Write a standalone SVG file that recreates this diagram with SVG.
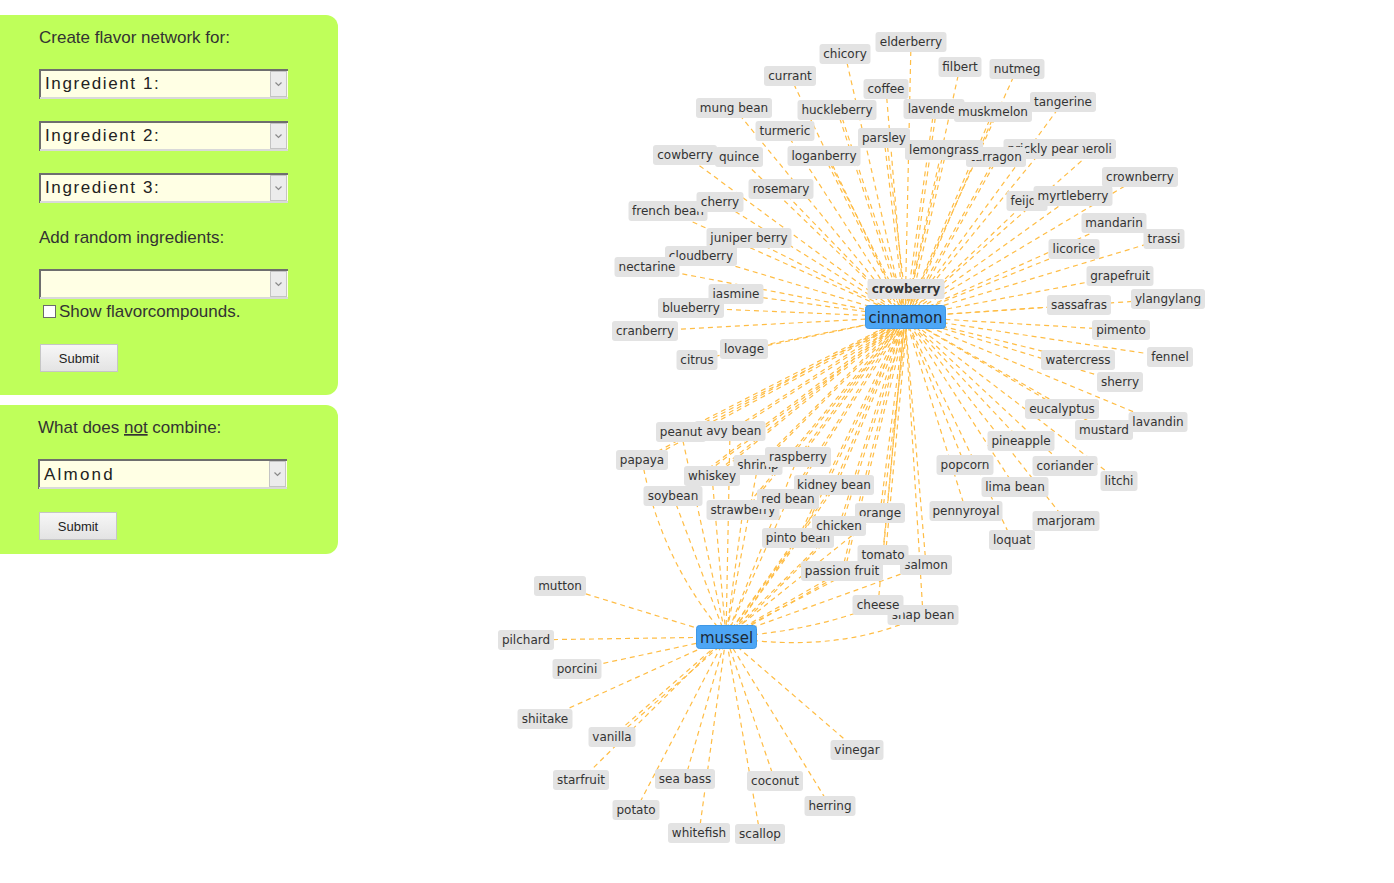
<svg xmlns="http://www.w3.org/2000/svg" width="1394" height="883" viewBox="0 0 1394 883">
<defs>
<linearGradient id="btn" x1="0" y1="0" x2="0" y2="1"><stop offset="0" stop-color="#f7f7f7"/><stop offset="1" stop-color="#e3e3e3"/></linearGradient>
<style>
.panel{fill:#bfff5a}
.lbl{font-family:"Liberation Sans",Arial,sans-serif;font-size:17px;fill:#333}
.sel{fill:#ffffe4}
.selt{font-family:"Liberation Sans",Arial,sans-serif;font-size:17px;fill:#222;letter-spacing:1.6px}
.dk{stroke:#6e6e6e;stroke-width:2;fill:none}
.lt{stroke:#d9d9d9;stroke-width:2;fill:none}
.dd{fill:#ececec;stroke:#c4c4c4;stroke-width:1}
.chev{stroke:#8a8a8a;stroke-width:1.2;fill:none}
.btn{fill:url(#btn);stroke:#c6c6c6;stroke-width:1}
.btnt{font-family:"Liberation Sans",Arial,sans-serif;font-size:13px;fill:#222;text-anchor:middle}
.e line,.e path{stroke:#ffbd45;stroke-width:1.2;stroke-dasharray:5 4;fill:none}
.n rect{fill:#e3e3e3}
.n text{font-family:"DejaVu Sans",Verdana,sans-serif;font-size:12px;fill:#333;text-anchor:middle}
.b text{font-weight:bold}
.h rect{fill:#4da6f5;stroke:#3f98e6;stroke-width:1}
.h text{font-family:"DejaVu Sans",Verdana,sans-serif;font-size:15px;fill:#1e2a36;text-anchor:middle}
</style>
</defs>
<rect width="1394" height="883" fill="#ffffff"/>

<g id="form-network">
<rect class="panel" x="-20" y="15" width="358" height="380" rx="12"/>
<text class="lbl" x="39" y="43">Create flavor network for:</text>
<g id="sel1"><rect class="sel" x="39" y="69" width="249" height="30"/><path class="dk" d="M40,99V70H288"/><path class="lt" d="M40,98H288"/><text class="selt" x="45" y="89">Ingredient 1:</text><rect class="dd" x="270.5" y="71.5" width="16" height="25"/><path class="chev" d="M275.5,82.5l3,3l3,-3"/></g>
<g id="sel2"><rect class="sel" x="39" y="121" width="249" height="30"/><path class="dk" d="M40,151V122H288"/><path class="lt" d="M40,150H288"/><text class="selt" x="45" y="141">Ingredient 2:</text><rect class="dd" x="270.5" y="123.5" width="16" height="25"/><path class="chev" d="M275.5,134.5l3,3l3,-3"/></g>
<g id="sel3"><rect class="sel" x="39" y="173" width="249" height="30"/><path class="dk" d="M40,203V174H288"/><path class="lt" d="M40,202H288"/><text class="selt" x="45" y="193">Ingredient 3:</text><rect class="dd" x="270.5" y="175.5" width="16" height="25"/><path class="chev" d="M275.5,186.5l3,3l3,-3"/></g>
<text class="lbl" x="39" y="243">Add random ingredients:</text>
<g id="sel4"><rect class="sel" x="39" y="269" width="249" height="30"/><path class="dk" d="M40,299V270H288"/><path class="lt" d="M40,298H288"/><rect class="dd" x="270.5" y="271.5" width="16" height="25"/><path class="chev" d="M275.5,282.5l3,3l3,-3"/></g>
<rect x="43.5" y="305.5" width="12" height="12" fill="#ffffff" stroke="#6a6a6a"/>
<text class="lbl" x="59" y="317">Show flavorcompounds.</text>
<rect class="btn" x="40.5" y="344.5" width="77" height="27"/>
<text class="btnt" x="79" y="363">Submit</text>
</g>

<g id="form-notcombine">
<rect class="panel" x="-20" y="405" width="358" height="149" rx="12"/>
<text class="lbl" x="38" y="433">What does <tspan text-decoration="underline">not</tspan> combine:</text>
<g id="sel5"><rect class="sel" x="38" y="459" width="249" height="30"/><path class="dk" d="M39,489V460H287"/><path class="lt" d="M39,488H287"/><text class="selt" x="44" y="480" style="letter-spacing:2.2px">Almond</text><rect class="dd" x="269.5" y="461.5" width="16" height="25"/><path class="chev" d="M274.5,472.5l3,3l3,-3"/></g>
<rect class="btn" x="39.5" y="512.5" width="77" height="27"/>
<text class="btnt" x="78" y="531">Submit</text>
</g>

<g id="connectors" class="e">
<!-- to cinnamon -->
<line x1="845" y1="54" x2="905" y2="317"/>
<line x1="911" y1="42" x2="905" y2="317"/>
<line x1="790" y1="76" x2="905" y2="317"/>
<line x1="886" y1="89" x2="905" y2="317"/>
<line x1="960" y1="67" x2="905" y2="317"/>
<line x1="1017" y1="69" x2="905" y2="317"/>
<line x1="734" y1="108" x2="905" y2="317"/>
<line x1="837" y1="110" x2="905" y2="317"/>
<line x1="934" y1="109" x2="905" y2="317"/>
<line x1="993" y1="112" x2="905" y2="317"/>
<line x1="1063" y1="102" x2="905" y2="317"/>
<line x1="785" y1="131" x2="905" y2="317"/>
<line x1="884" y1="138" x2="905" y2="317"/>
<line x1="685" y1="155" x2="905" y2="317"/>
<line x1="739" y1="157" x2="905" y2="317"/>
<line x1="824" y1="156" x2="905" y2="317"/>
<line x1="944" y1="150" x2="905" y2="317"/>
<line x1="996" y1="157" x2="905" y2="317"/>
<line x1="1043" y1="149" x2="905" y2="317"/>
<line x1="1095" y1="149" x2="905" y2="317"/>
<line x1="1140" y1="177" x2="905" y2="317"/>
<line x1="1027" y1="201" x2="905" y2="317"/>
<line x1="1073" y1="196" x2="905" y2="317"/>
<line x1="781" y1="189" x2="905" y2="317"/>
<line x1="720" y1="202" x2="905" y2="317"/>
<line x1="668" y1="211" x2="905" y2="317"/>
<line x1="1114" y1="223" x2="905" y2="317"/>
<line x1="1164" y1="239" x2="905" y2="317"/>
<line x1="749" y1="238" x2="905" y2="317"/>
<line x1="701" y1="256" x2="905" y2="317"/>
<line x1="647" y1="267" x2="905" y2="317"/>
<line x1="1074" y1="249" x2="905" y2="317"/>
<line x1="1120" y1="276" x2="905" y2="317"/>
<line x1="906" y1="289" x2="905" y2="317"/>
<line x1="736" y1="294" x2="905" y2="317"/>
<line x1="691" y1="308" x2="905" y2="317"/>
<line x1="1079" y1="305" x2="905" y2="317"/>
<line x1="1168" y1="299" x2="905" y2="317"/>
<line x1="645" y1="331" x2="905" y2="317"/>
<line x1="1121" y1="330" x2="905" y2="317"/>
<line x1="744" y1="349" x2="905" y2="317"/>
<line x1="697" y1="360" x2="905" y2="317"/>
<line x1="1078" y1="360" x2="905" y2="317"/>
<line x1="1170" y1="357" x2="905" y2="317"/>
<line x1="1120" y1="382" x2="905" y2="317"/>
<line x1="1062" y1="409" x2="905" y2="317"/>
<line x1="1158" y1="422" x2="905" y2="317"/>
<line x1="1104" y1="430" x2="905" y2="317"/>
<line x1="1021" y1="441" x2="905" y2="317"/>
<line x1="965" y1="465" x2="905" y2="317"/>
<line x1="1065" y1="466" x2="905" y2="317"/>
<line x1="1119" y1="481" x2="905" y2="317"/>
<line x1="1015" y1="487" x2="905" y2="317"/>
<line x1="966" y1="511" x2="905" y2="317"/>
<line x1="1066" y1="521" x2="905" y2="317"/>
<line x1="1012" y1="540" x2="905" y2="317"/>
<line x1="681" y1="432" x2="905" y2="317"/>
<line x1="730" y1="431" x2="905" y2="317"/>
<line x1="642" y1="460" x2="905" y2="317"/>
<line x1="798" y1="457" x2="905" y2="317"/>
<line x1="758" y1="465" x2="905" y2="317"/>
<line x1="712" y1="476" x2="905" y2="317"/>
<line x1="673" y1="496" x2="905" y2="317"/>
<line x1="834" y1="485" x2="905" y2="317"/>
<line x1="788" y1="499" x2="905" y2="317"/>
<line x1="743" y1="510" x2="905" y2="317"/>
<line x1="880" y1="513" x2="905" y2="317"/>
<line x1="839" y1="526" x2="905" y2="317"/>
<line x1="798" y1="538" x2="905" y2="317"/>
<line x1="883" y1="555" x2="905" y2="317"/>
<line x1="926" y1="565" x2="905" y2="317"/>
<line x1="842" y1="571" x2="905" y2="317"/>
<line x1="878" y1="605" x2="905" y2="317"/>
<line x1="923" y1="615" x2="905" y2="317"/>
<!-- doubled parallel edges -->
<g transform="translate(2.5,0)">
<line x1="824" y1="156" x2="905" y2="317"/>
<line x1="837" y1="110" x2="905" y2="317"/>
<line x1="934" y1="109" x2="905" y2="317"/>
<line x1="993" y1="112" x2="905" y2="317"/>
<line x1="944" y1="150" x2="905" y2="317"/>
<line x1="884" y1="138" x2="905" y2="317"/>
<line x1="996" y1="157" x2="905" y2="317"/>
<line x1="798" y1="457" x2="905" y2="317"/>
<line x1="834" y1="485" x2="905" y2="317"/>
<line x1="788" y1="499" x2="905" y2="317"/>
<line x1="743" y1="510" x2="905" y2="317"/>
<line x1="880" y1="513" x2="905" y2="317"/>
<line x1="839" y1="526" x2="905" y2="317"/>
<line x1="798" y1="538" x2="905" y2="317"/>
<line x1="883" y1="555" x2="905" y2="317"/>
<line x1="842" y1="571" x2="905" y2="317"/>
<line x1="839" y1="526" x2="726" y2="637"/>
<line x1="798" y1="538" x2="726" y2="637"/>
<line x1="834" y1="485" x2="726" y2="637"/>
</g>
<g transform="translate(0,2.5)">
<line x1="758" y1="465" x2="905" y2="317"/>
<line x1="712" y1="476" x2="905" y2="317"/>
<line x1="681" y1="432" x2="905" y2="317"/>
<line x1="730" y1="431" x2="905" y2="317"/>
<line x1="642" y1="460" x2="905" y2="317"/>
<line x1="673" y1="496" x2="905" y2="317"/>
<line x1="842" y1="571" x2="726" y2="637"/>
</g>
<g transform="translate(2,2)">
<line x1="612" y1="737" x2="726" y2="637"/>
</g>
<!-- to mussel -->
<line x1="560" y1="586" x2="726" y2="637"/>
<line x1="526" y1="640" x2="726" y2="637"/>
<line x1="577" y1="669" x2="726" y2="637"/>
<line x1="545" y1="719" x2="726" y2="637"/>
<line x1="612" y1="737" x2="726" y2="637"/>
<line x1="581" y1="780" x2="726" y2="637"/>
<line x1="685" y1="779" x2="726" y2="637"/>
<line x1="775" y1="781" x2="726" y2="637"/>
<line x1="830" y1="806" x2="726" y2="637"/>
<line x1="636" y1="810" x2="726" y2="637"/>
<line x1="699" y1="833" x2="726" y2="637"/>
<line x1="760" y1="834" x2="726" y2="637"/>
<line x1="857" y1="750" x2="726" y2="637"/>
<line x1="681" y1="432" x2="726" y2="637"/>
<line x1="730" y1="431" x2="726" y2="637"/>
<path d="M642,460 Q660,560 726,637"/>
<line x1="798" y1="457" x2="726" y2="637"/>
<line x1="758" y1="465" x2="726" y2="637"/>
<line x1="712" y1="476" x2="726" y2="637"/>
<line x1="673" y1="496" x2="726" y2="637"/>
<line x1="834" y1="485" x2="726" y2="637"/>
<line x1="788" y1="499" x2="726" y2="637"/>
<line x1="743" y1="510" x2="726" y2="637"/>
<line x1="880" y1="513" x2="726" y2="637"/>
<line x1="839" y1="526" x2="726" y2="637"/>
<line x1="798" y1="538" x2="726" y2="637"/>
<line x1="883" y1="555" x2="726" y2="637"/>
<line x1="926" y1="565" x2="726" y2="637"/>
<line x1="842" y1="571" x2="726" y2="637"/>
<path d="M726,637 Q810,632 878,605"/>
<path d="M726,637 Q840,655 923,615"/>
</g>

<g id="nodes" class="n">
<g id="n-chicory"><rect x="819.5" y="44" width="51" height="20" rx="3"/><text x="845" y="58">chicory</text></g>
<g id="n-elderberry"><rect x="875.5" y="32" width="71" height="20" rx="3"/><text x="911" y="46">elderberry</text></g>
<g id="n-currant"><rect x="764" y="66" width="52" height="20" rx="3"/><text x="790" y="80">currant</text></g>
<g id="n-coffee"><rect x="863.5" y="79" width="45" height="20" rx="3"/><text x="886" y="93">coffee</text></g>
<g id="n-filbert"><rect x="938.5" y="57" width="43" height="20" rx="3"/><text x="960" y="71">filbert</text></g>
<g id="n-nutmeg"><rect x="989.5" y="59" width="55" height="20" rx="3"/><text x="1017" y="73">nutmeg</text></g>
<g id="n-mungbean"><rect x="696" y="98" width="76" height="20" rx="3"/><text x="734" y="112">mung bean</text></g>
<g id="n-huckleberry"><rect x="797.5" y="100" width="79" height="20" rx="3"/><text x="837" y="114">huckleberry</text></g>
<g id="n-lavender"><rect x="903.5" y="99" width="61" height="20" rx="3"/><text x="934" y="113">lavender</text></g>
<g id="n-muskmelon"><rect x="954" y="102" width="78" height="20" rx="3"/><text x="993" y="116">muskmelon</text></g>
<g id="n-tangerine"><rect x="1030" y="92" width="66" height="20" rx="3"/><text x="1063" y="106">tangerine</text></g>
<g id="n-turmeric"><rect x="755.5" y="121" width="59" height="20" rx="3"/><text x="785" y="135">turmeric</text></g>
<g id="n-parsley"><rect x="858" y="128" width="52" height="20" rx="3"/><text x="884" y="142">parsley</text></g>
<g id="n-cowberry"><rect x="653" y="145" width="64" height="20" rx="3"/><text x="685" y="159">cowberry</text></g>
<g id="n-quince"><rect x="715" y="147" width="48" height="20" rx="3"/><text x="739" y="161">quince</text></g>
<g id="n-loganberry"><rect x="787.5" y="146" width="73" height="20" rx="3"/><text x="824" y="160">loganberry</text></g>
<g id="n-neroli"><rect x="1074" y="139" width="42" height="20" rx="3"/><text x="1095" y="153">neroli</text></g>
<g id="n-pricklypear"><rect x="1003.5" y="139" width="79" height="20" rx="3"/><text x="1043" y="153">prickly pear</text></g>
<g id="n-tarragon"><rect x="966" y="147" width="60" height="20" rx="3"/><text x="996" y="161">tarragon</text></g>
<g id="n-lemongrass"><rect x="905" y="140" width="78" height="20" rx="3"/><text x="944" y="154">lemongrass</text></g>
<g id="n-crownberry"><rect x="1102" y="167" width="76" height="20" rx="3"/><text x="1140" y="181">crownberry</text></g>
<g id="n-feijoa"><rect x="1006.5" y="191" width="41" height="20" rx="3"/><text x="1027" y="205">feijoa</text></g>
<g id="n-myrtleberry"><rect x="1033.5" y="186" width="79" height="20" rx="3"/><text x="1073" y="200">myrtleberry</text></g>
<g id="n-rosemary"><rect x="748.5" y="179" width="65" height="20" rx="3"/><text x="781" y="193">rosemary</text></g>
<g id="n-frenchbean"><rect x="628.5" y="201" width="79" height="20" rx="3"/><text x="668" y="215">french bean</text></g>
<g id="n-cherry"><rect x="696.5" y="192" width="47" height="20" rx="3"/><text x="720" y="206">cherry</text></g>
<g id="n-mandarin"><rect x="1081.5" y="213" width="65" height="20" rx="3"/><text x="1114" y="227">mandarin</text></g>
<g id="n-trassi"><rect x="1143.5" y="229" width="41" height="20" rx="3"/><text x="1164" y="243">trassi</text></g>
<g id="n-juniperberry"><rect x="706.5" y="228" width="85" height="20" rx="3"/><text x="749" y="242">juniper berry</text></g>
<g id="n-cloudberry"><rect x="665" y="246" width="72" height="20" rx="3"/><text x="701" y="260">cloudberry</text></g>
<g id="n-nectarine"><rect x="614.5" y="257" width="65" height="20" rx="3"/><text x="647" y="271">nectarine</text></g>
<g id="n-licorice"><rect x="1048.5" y="239" width="51" height="20" rx="3"/><text x="1074" y="253">licorice</text></g>
<g id="n-grapefruit"><rect x="1086.5" y="266" width="67" height="20" rx="3"/><text x="1120" y="280">grapefruit</text></g>
<g id="n-crowberry" class="b"><rect x="867.5" y="279" width="77" height="20" rx="3"/><text x="906" y="293">crowberry</text></g>
<g id="n-jasmine"><rect x="708.5" y="284" width="55" height="20" rx="3"/><text x="736" y="298">jasmine</text></g>
<g id="n-blueberry"><rect x="658" y="298" width="66" height="20" rx="3"/><text x="691" y="312">blueberry</text></g>
<g id="n-sassafras"><rect x="1047" y="295" width="64" height="20" rx="3"/><text x="1079" y="309">sassafras</text></g>
<g id="n-ylangylang"><rect x="1131" y="289" width="74" height="20" rx="3"/><text x="1168" y="303">ylangylang</text></g>
<g id="n-cranberry"><rect x="612" y="321" width="66" height="20" rx="3"/><text x="645" y="335">cranberry</text></g>
<g id="n-pimento"><rect x="1092" y="320" width="58" height="20" rx="3"/><text x="1121" y="334">pimento</text></g>
<g id="n-lovage"><rect x="720" y="339" width="48" height="20" rx="3"/><text x="744" y="353">lovage</text></g>
<g id="n-citrus"><rect x="676.5" y="350" width="41" height="20" rx="3"/><text x="697" y="364">citrus</text></g>
<g id="n-watercress"><rect x="1041" y="350" width="74" height="20" rx="3"/><text x="1078" y="364">watercress</text></g>
<g id="n-fennel"><rect x="1147" y="347" width="46" height="20" rx="3"/><text x="1170" y="361">fennel</text></g>
<g id="n-sherry"><rect x="1097" y="372" width="46" height="20" rx="3"/><text x="1120" y="386">sherry</text></g>
<g id="n-eucalyptus"><rect x="1025" y="399" width="74" height="20" rx="3"/><text x="1062" y="413">eucalyptus</text></g>
<g id="n-lavandin"><rect x="1128.5" y="412" width="59" height="20" rx="3"/><text x="1158" y="426">lavandin</text></g>
<g id="n-mustard"><rect x="1075" y="420" width="58" height="20" rx="3"/><text x="1104" y="434">mustard</text></g>
<g id="n-pineapple"><rect x="987.5" y="431" width="67" height="20" rx="3"/><text x="1021" y="445">pineapple</text></g>
<g id="n-navybean"><rect x="694.5" y="421" width="71" height="20" rx="3"/><text x="730" y="435">navy bean</text></g>
<g id="n-peanut"><rect x="656" y="422" width="50" height="20" rx="3"/><text x="681" y="436">peanut</text></g>
<g id="n-papaya"><rect x="616" y="450" width="52" height="20" rx="3"/><text x="642" y="464">papaya</text></g>
<g id="n-shrimp"><rect x="733.5" y="455" width="49" height="20" rx="3"/><text x="758" y="469">shrimp</text></g>
<g id="n-raspberry"><rect x="765" y="447" width="66" height="20" rx="3"/><text x="798" y="461">raspberry</text></g>
<g id="n-whiskey"><rect x="684" y="466" width="56" height="20" rx="3"/><text x="712" y="480">whiskey</text></g>
<g id="n-popcorn"><rect x="936.5" y="455" width="57" height="20" rx="3"/><text x="965" y="469">popcorn</text></g>
<g id="n-coriander"><rect x="1032.5" y="456" width="65" height="20" rx="3"/><text x="1065" y="470">coriander</text></g>
<g id="n-litchi"><rect x="1100.5" y="471" width="37" height="20" rx="3"/><text x="1119" y="485">litchi</text></g>
<g id="n-soybean"><rect x="643.5" y="486" width="59" height="20" rx="3"/><text x="673" y="500">soybean</text></g>
<g id="n-kidneybean"><rect x="794" y="475" width="80" height="20" rx="3"/><text x="834" y="489">kidney bean</text></g>
<g id="n-limabean"><rect x="981.5" y="477" width="67" height="20" rx="3"/><text x="1015" y="491">lima bean</text></g>
<g id="n-strawberry"><rect x="706.5" y="500" width="73" height="20" rx="3"/><text x="743" y="514">strawberry</text></g>
<g id="n-redbean"><rect x="757" y="489" width="62" height="20" rx="3"/><text x="788" y="503">red bean</text></g>
<g id="n-orange"><rect x="855" y="503" width="50" height="20" rx="3"/><text x="880" y="517">orange</text></g>
<g id="n-pennyroyal"><rect x="929.5" y="501" width="73" height="20" rx="3"/><text x="966" y="515">pennyroyal</text></g>
<g id="n-marjoram"><rect x="1032.5" y="511" width="67" height="20" rx="3"/><text x="1066" y="525">marjoram</text></g>
<g id="n-pintobean"><rect x="762" y="528" width="72" height="20" rx="3"/><text x="798" y="542">pinto bean</text></g>
<g id="n-chicken"><rect x="812" y="516" width="54" height="20" rx="3"/><text x="839" y="530">chicken</text></g>
<g id="n-loquat"><rect x="989" y="530" width="46" height="20" rx="3"/><text x="1012" y="544">loquat</text></g>
<g id="n-passionfruit"><rect x="801" y="561" width="82" height="20" rx="3"/><text x="842" y="575">passion fruit</text></g>
<g id="n-salmon"><rect x="900" y="555" width="52" height="20" rx="3"/><text x="926" y="569">salmon</text></g>
<g id="n-tomato"><rect x="857.5" y="545" width="51" height="20" rx="3"/><text x="883" y="559">tomato</text></g>
<g id="n-snapbean"><rect x="887.5" y="605" width="71" height="20" rx="3"/><text x="923" y="619">snap bean</text></g>
<g id="n-cheese"><rect x="852.5" y="595" width="51" height="20" rx="3"/><text x="878" y="609">cheese</text></g>
<g id="n-mutton"><rect x="534" y="576" width="52" height="20" rx="3"/><text x="560" y="590">mutton</text></g>
<g id="n-pilchard"><rect x="498" y="630" width="56" height="20" rx="3"/><text x="526" y="644">pilchard</text></g>
<g id="n-porcini"><rect x="552.5" y="659" width="49" height="20" rx="3"/><text x="577" y="673">porcini</text></g>
<g id="n-shiitake"><rect x="517.5" y="709" width="55" height="20" rx="3"/><text x="545" y="723">shiitake</text></g>
<g id="n-vanilla"><rect x="588.5" y="727" width="47" height="20" rx="3"/><text x="612" y="741">vanilla</text></g>
<g id="n-vinegar"><rect x="830.5" y="740" width="53" height="20" rx="3"/><text x="857" y="754">vinegar</text></g>
<g id="n-starfruit"><rect x="553" y="770" width="56" height="20" rx="3"/><text x="581" y="784">starfruit</text></g>
<g id="n-seabass"><rect x="655" y="769" width="60" height="20" rx="3"/><text x="685" y="783">sea bass</text></g>
<g id="n-coconut"><rect x="747" y="771" width="56" height="20" rx="3"/><text x="775" y="785">coconut</text></g>
<g id="n-herring"><rect x="804.5" y="796" width="51" height="20" rx="3"/><text x="830" y="810">herring</text></g>
<g id="n-potato"><rect x="612.5" y="800" width="47" height="20" rx="3"/><text x="636" y="814">potato</text></g>
<g id="n-whitefish"><rect x="668" y="823" width="62" height="20" rx="3"/><text x="699" y="837">whitefish</text></g>
<g id="n-scallop"><rect x="735" y="824" width="50" height="20" rx="3"/><text x="760" y="838">scallop</text></g>
<g id="n-cinnamon" class="h"><rect x="865.5" y="305.5" width="80" height="23" rx="3"/><text x="905.5" y="322.5">cinnamon</text></g>
<g id="n-mussel" class="h"><rect x="696.5" y="625.5" width="60" height="23" rx="3"/><text x="726.5" y="642.5">mussel</text></g>
</g>
</svg>
